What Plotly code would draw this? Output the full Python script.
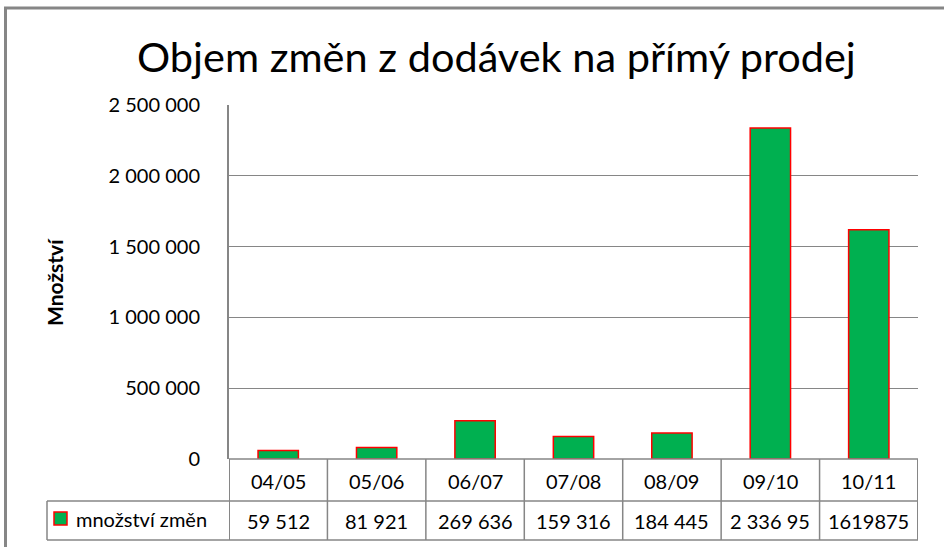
import plotly.graph_objects as go

# ---- data ----
categories = ["04/05", "05/06", "06/07", "07/08", "08/09", "09/10", "10/11"]
values = [59512, 81921, 269636, 159316, 184445, 2336950, 1619875]
table_labels = ["59 512", "81 921", "269 636", "159 316", "184 445", "2 336 95", "1619875"]
series_name = "množství změn"
title_text = "Objem změn z dodávek na přímý prodej"
y_title = "Množství"
y_ticks = [0, 500000, 1000000, 1500000, 2000000, 2500000]

# ---- layout geometry (pixels) ----
W, H = 944, 547
L, R, T, B = 229, 918, 105, 459
PW, PH = R - L, B - T

def px(x):
    return (x - L) / PW

def py(y):
    return (B - y) / PH

GRAY = "#868686"
FONT = "Lato"
FS = 20

fig = go.Figure()
fig.add_trace(go.Bar(
    x=categories, y=values, name=series_name,
    marker=dict(color="#00B050", line=dict(color="#FF0000", width=1.5)),
    width=0.41, showlegend=False, hoverinfo="x+y",
))

shapes = []
def line(x0, y0, x1, y1, w=1.5, color=GRAY):
    shapes.append(dict(type="line", xref="paper", yref="paper",
                       x0=px(x0), y0=py(y0), x1=px(x1), y1=py(y1),
                       line=dict(color=color, width=w), layer="above"))

# outer chart frame (left and top visible)
line(5.5, 8, 5.5, 560, w=3)
line(4, 8, 960, 8, w=3)

# data table lines
row1, row2, row3 = 459, 501, 540
line(L, row1, R, row1, w=1.5)
line(47, row2, R, row2, w=1.5)
line(47, row3, R, row3, w=1.5)
line(47, row2, 47, row3, w=1.5)
ncat = len(categories)
for i in range(ncat + 1):
    shapes.append(dict(type="line", xref="x", yref="paper",
                       x0=i - 0.5, x1=i - 0.5, y0=py(row1), y1=py(row3),
                       line=dict(color=GRAY, width=1.5 if 0 < i < ncat else 2)))

# legend key
shapes.append(dict(type="rect", xref="paper", yref="paper",
                   x0=px(54), x1=px(67), y0=py(512), y1=py(525),
                   fillcolor="#00B050", line=dict(color="#FF0000", width=1.5)))

annotations = []
for c, lab in zip(categories, table_labels):
    annotations.append(dict(x=c, xref="x", y=py((row1 + row2) / 2 + 1), yref="paper",
                            text=c, showarrow=False, xanchor="center", yanchor="middle",
                            font=dict(family=FONT, size=FS, color="#000")))
    annotations.append(dict(x=c, xref="x", y=py((row2 + row3) / 2), yref="paper",
                            text=lab, showarrow=False, xanchor="center", yanchor="middle",
                            font=dict(family=FONT, size=FS, color="#000")))
annotations.append(dict(x=px(74), xref="paper", y=py(519), yref="paper",
                        text=series_name, showarrow=False, xanchor="left", yanchor="middle",
                        font=dict(family=FONT, size=FS, color="#000")))
annotations.append(dict(x=px(54), xref="paper", y=py(282), yref="paper",
                        text="<b>" + y_title + "</b>", showarrow=False, textangle=-90,
                        xanchor="center", yanchor="middle",
                        font=dict(family=FONT, size=21, color="#000")))
annotations.append(dict(x=px(496), xref="paper", y=py(56), yref="paper",
                        text=title_text, showarrow=False, xanchor="center", yanchor="middle",
                        font=dict(family=FONT, size=41.5, color="#000")))

fig.update_layout(
    width=W, height=H,
    margin=dict(l=L, r=W - R, t=T, b=H - B),
    paper_bgcolor="white", plot_bgcolor="white",
    separators=", ",
    shapes=shapes, annotations=annotations,
    showlegend=False,
    xaxis=dict(showticklabels=False, showgrid=False, showline=False, ticks="",
               zeroline=False, range=[-0.5, ncat - 0.5], fixedrange=True),
    yaxis=dict(range=[0, 2500000], tickvals=y_ticks, tickformat=",d",
               showgrid=True, gridcolor=GRAY, gridwidth=1.4,
               showline=True, linecolor=GRAY, linewidth=2,
               zeroline=False, ticks="", ticklabelstandoff=23,
               tickfont=dict(family=FONT, size=FS, color="#000"), fixedrange=True),
)

fig.write_html("out.html", config={"displayModeBar": False},
               post_script="document.body.style.margin='0';document.body.style.overflow='hidden';")
